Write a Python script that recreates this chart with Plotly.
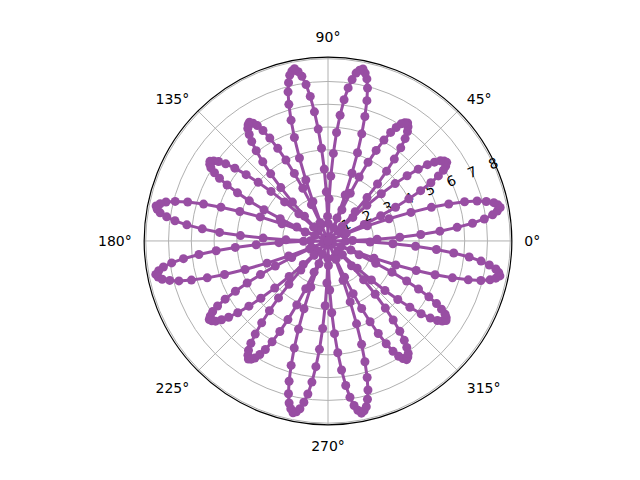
import plotly.graph_objects as go

# each petal starts at one of these angles (deg) and spans 22.5 deg
petal_start_deg = [0, 22.5, 45, 67.5, 90, 112.5, 135, 157.5,
                   180, 202.5, 225, 247.5, 270, 292.5, 315, 337.5]
# peak radius of each petal
petal_peak = [7.7, 6.25, 6.25, 7.7, 7.7, 6.25, 6.25, 7.7,
              7.7, 6.25, 6.25, 7.7, 7.7, 6.25, 6.25, 7.7]
# sample offsets inside one petal (deg) and the relative radius at each
profile_offset_deg = list(range(23))
profile_frac = [0.0, 0.14, 0.28, 0.41, 0.53, 0.64, 0.74, 0.83, 0.90, 0.95, 0.98, 1.0,
                0.99, 0.97, 0.93, 0.88, 0.81, 0.72, 0.62, 0.50, 0.37, 0.24, 0.10]

r_ticks = [1, 2, 3, 4, 5, 6, 7, 8]
theta_ticks = [0, 45, 90, 135, 180, 225, 270, 315]
theta_labels = ["0°", "45°", "90°", "135°", "180°", "225°", "270°", "315°"]

theta, r = [], []
for start, peak in zip(petal_start_deg, petal_peak):
    for off, frac in zip(profile_offset_deg, profile_frac):
        theta.append(start + off)
        r.append(peak * frac)
theta.append(360)
r.append(0.0)

purple = "#984ea3"

fig = go.Figure()
fig.add_trace(go.Scatterpolar(
    r=r,
    theta=theta,
    mode="lines+markers",
    line=dict(color=purple, width=3),
    marker=dict(color=purple, size=9),
    showlegend=False
))

fig.update_layout(
    width=640, height=480,
    margin=dict(l=0, r=0, t=0, b=0),
    paper_bgcolor="white",
    font=dict(family="DejaVu Sans", size=14, color="black"),
    polar=dict(
        domain=dict(x=[0.2125, 0.7875], y=[0.1317, 0.8977]),
        bgcolor="white",
        angularaxis=dict(
            direction="counterclockwise",
            rotation=0,
            tickmode="array",
            tickvals=theta_ticks,
            ticktext=theta_labels,
            ticks="outside",
            ticklen=9,
            tickcolor="rgba(0,0,0,0)",
            showline=True,
            linecolor="black",
            linewidth=1.2,
            gridcolor="#b0b0b0",
            gridwidth=0.8,
            layer="below traces"
        ),
        radialaxis=dict(
            range=[0, 8.07],
            tickmode="array",
            tickvals=r_ticks,
            angle=22.5,
            tickangle=0,
            side="counterclockwise",
            ticks="",
            showline=False,
            gridcolor="#b0b0b0",
            gridwidth=0.8,
            layer="below traces"
        )
    )
)

fig.write_html("out.html")
